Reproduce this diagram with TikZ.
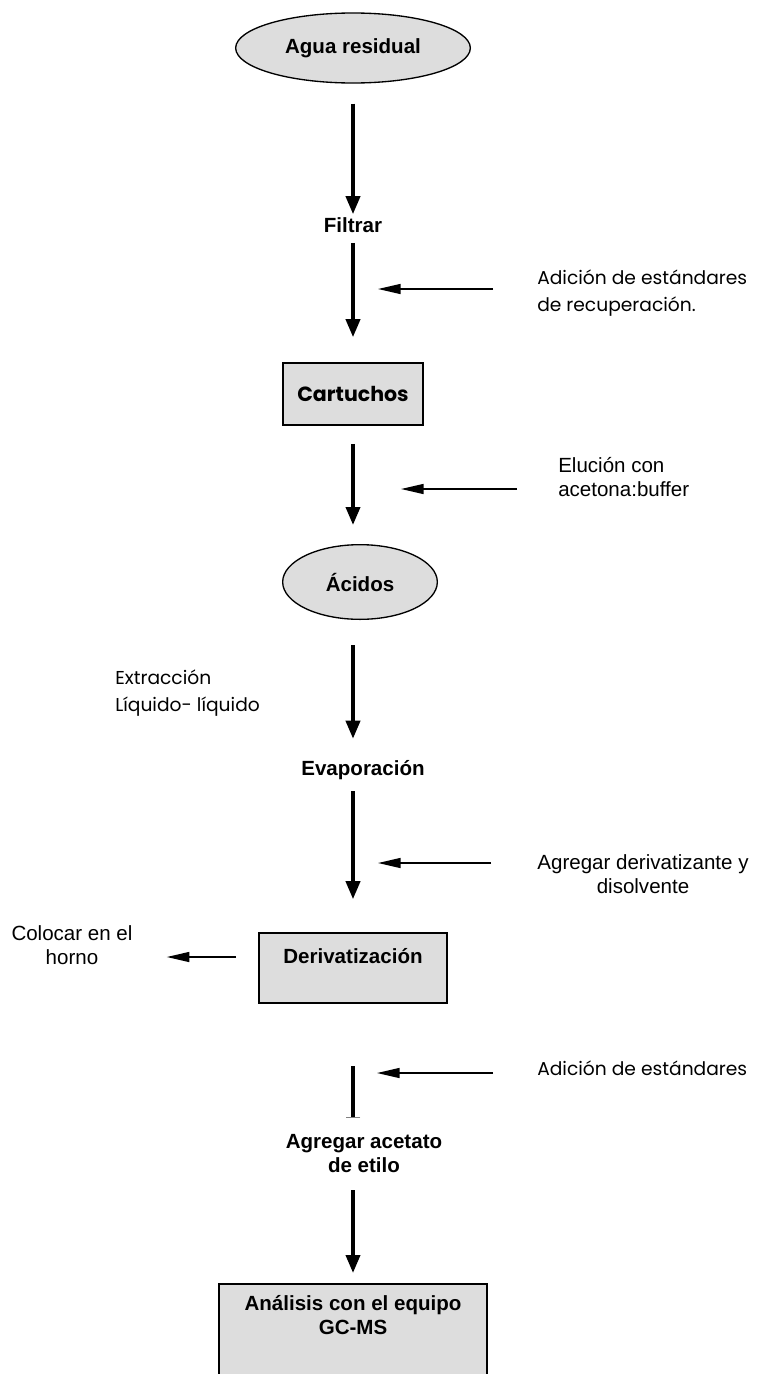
\documentclass[tikz,border=0pt]{standalone}
\usepackage{fontspec}
\setmainfont{Liberation Sans}
\newfontfamily\comicfont{Poppins}
\usetikzlibrary{arrows.meta,shapes.geometric,positioning}
\newcommand\flowsize{\fontsize{15.4pt}{18pt}\selectfont}
\definecolor{boxgray}{RGB}{221,221,221}
\tikzstyle{oval}=[draw,fill=boxgray,ellipse,line width=1pt,inner sep=0pt,font=\flowsize\bfseries]
\tikzstyle{stepbox}=[draw,fill=boxgray,rectangle,line width=1.2pt,inner sep=0pt,align=center,font=\flowsize\bfseries]
\tikzstyle{steptext}=[inner sep=0pt,align=center,font=\flowsize\bfseries]
\tikzstyle{note}=[inner sep=0pt,align=center,font=\flowsize]
\tikzstyle{comicnote}=[inner sep=0pt,align=left,font=\comicfont\fontsize{14pt}{20pt}\selectfont]
\tikzstyle{flow}=[line width=2.8pt,-{Triangle[width=10.5pt,length=13.5pt]}]
\tikzstyle{feed}=[line width=1.1pt,-{Triangle[width=7.5pt,length=17pt]}]

\begin{document}
\begin{tikzpicture}[x=0.75pt,y=-0.75pt]
\useasboundingbox (0,0) rectangle (757,1374);
% main column
\draw (353,48) node [oval,minimum width=176pt,minimum height=52.5pt] (agua) {Agua residual};
\draw (353,225) node [steptext] (filtrar) {Filtrar};
\draw (353,394) node [stepbox,minimum width=105pt,minimum height=46.5pt,font=\comicfont\flowsize\bfseries] (cart) {Cartuchos};
\draw (360,582) node [oval,minimum width=116pt,minimum height=56pt] (acidos) {Ácidos};
\draw (363,770) node [steptext] (evap) {Evaporación};
\draw (353,968) node [stepbox,minimum width=141pt,minimum height=52.5pt] (deriv) {Derivatización\\~};
\draw (364,1154) node [steptext] (acetato) {Agregar acetato\\de etilo};
\draw (353,1283) node [stepbox,anchor=north,minimum width=201pt,inner ysep=8.5pt] (gcms) {Análisis con el equipo\\GC-MS\\~\\~\\~};
% side notes
\draw (537,293) node [comicnote,anchor=west] (recup) {Adición de estándares\\de recuperación.};
\draw (558,477) node [note,anchor=west,align=left] (elucion) {Elución con\\acetona:buffer};
\draw (115,693) node [comicnote,anchor=west] (extraccion) {Extracción\\Líquido- líquido};
\draw (643,874) node [note] (derivtext) {Agregar derivatizante y\\disolvente};
\draw (72,945) node [note] (horno) {Colocar en el\\horno};
\draw (537,1068) node [comicnote,anchor=west] (estandares) {Adición de estándares};
% flow arrows
\draw[flow,shorten <=15pt,shorten >=2.25pt] (agua) -- (filtrar);
\draw[flow,shorten <=7.5pt,shorten >=18.75pt] (filtrar) -- (cart);
\draw[flow,shorten <=13.5pt,shorten >=14.25pt] (cart) -- (cart |- acidos.north);
\draw[flow,shorten <=18.75pt,shorten >=16pt] (acidos.south -| cart) -- (evap.north -| cart);
\draw[flow,shorten <=8.6pt,shorten >=24.75pt] (evap.south -| cart) -- (deriv);
\draw[line width=2.8pt,-{Bar[width=11pt,line width=0.6pt,color=gray]},shorten <=47pt,shorten >=12.4pt] (deriv) -- (acetato.north -| deriv);
\draw[flow,shorten <=12.75pt,shorten >=7.5pt] (acetato.south -| deriv) -- (gcms);
% feed arrows
\draw[feed,shorten <=33pt,shorten >=18.75pt] ([yshift=3pt]recup.west) -- ([yshift=3pt]recup.west -| agua);
\draw[feed,shorten <=30.75pt,shorten >=36pt] ([yshift=-9pt]elucion.west) -- ([yshift=-9pt]elucion.west -| agua);
\draw[feed,shorten <=34.5pt,shorten >=18.75pt] ([yshift=8.25pt]derivtext.west) -- ([yshift=8.25pt]derivtext.west -| agua);
\draw[feed,shorten <=16.5pt,shorten >=25.5pt] ([yshift=8.25pt]deriv.west) -- ([yshift=8.25pt]deriv.west -| horno.east);
\draw[feed,shorten <=33pt,shorten >=18pt] ([yshift=-3.75pt]estandares.west) -- ([yshift=-3.75pt]estandares.west -| agua);
\end{tikzpicture}
\end{document}
